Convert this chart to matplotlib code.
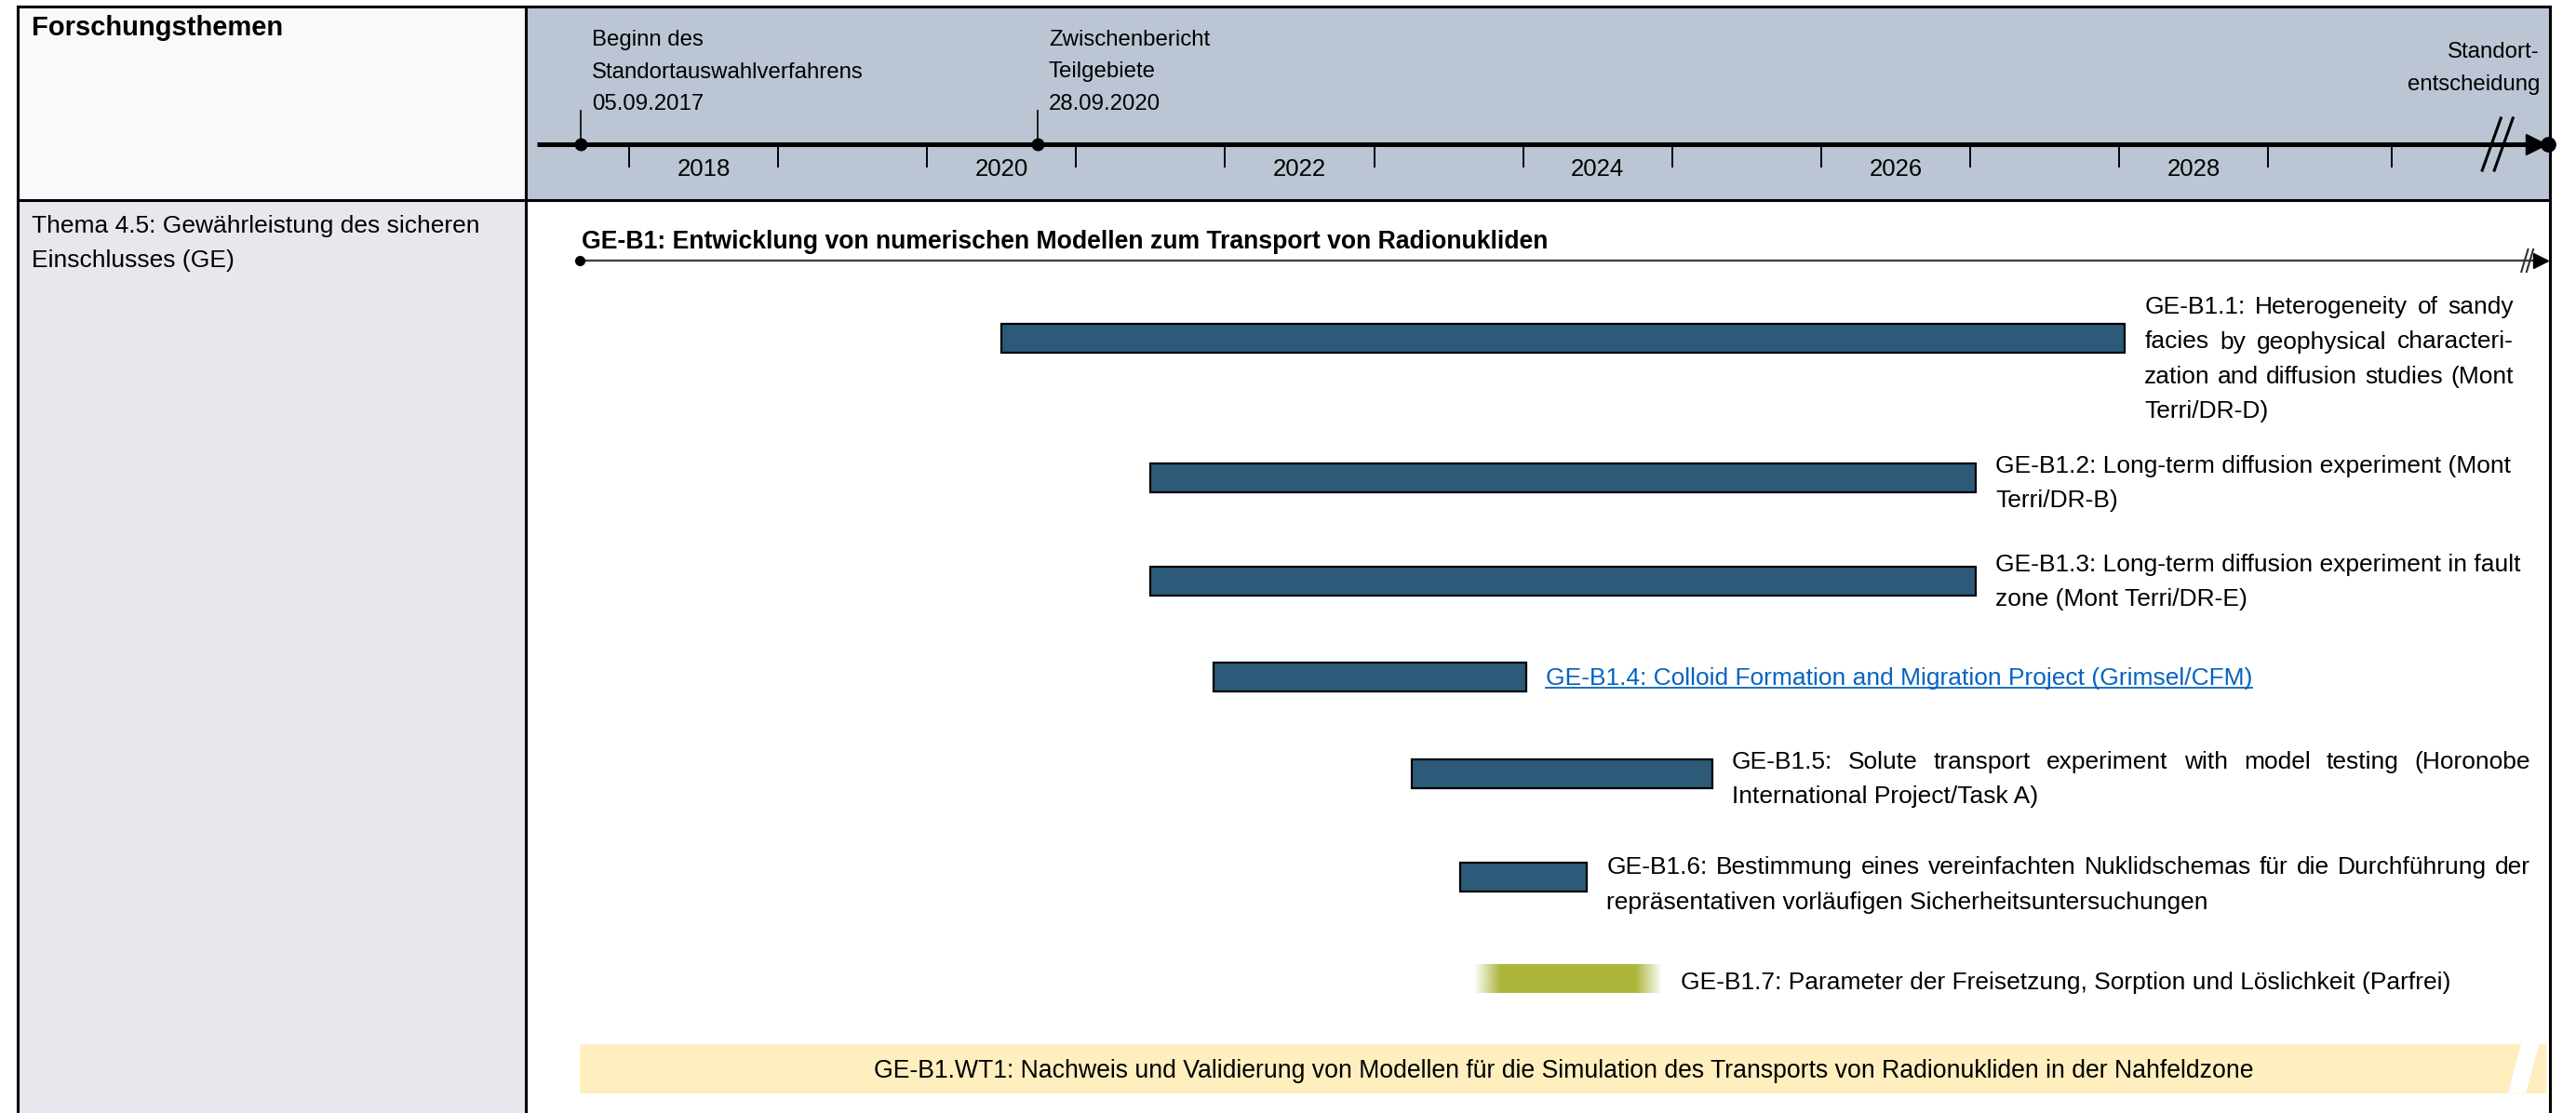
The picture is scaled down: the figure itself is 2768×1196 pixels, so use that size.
import datetime as dt
import numpy as np
import matplotlib
matplotlib.use("Agg")
import matplotlib.pyplot as plt
from matplotlib.colors import to_rgb
from matplotlib.patches import Rectangle, Polygon

plt.rcParams['font.family'] = ['Liberation Sans', 'DejaVu Sans']

# ---------------- data ----------------
header_title = "Forschungsthemen"
topic_title = ["Thema 4.5: Gewährleistung des sicheren", "Einschlusses (GE)"]

year_labels = [2018, 2020, 2022, 2024, 2026, 2028]
year_ticks = [2018, 2019, 2020, 2021, 2022, 2023, 2024, 2025, 2026, 2027, 2028, 2029, 2029.83]

milestone_dates = ["05.09.2017", "28.09.2020"]
milestone_texts = [["Beginn des", "Standortauswahlverfahrens", "05.09.2017"],
                   ["Zwischenbericht", "Teilgebiete", "28.09.2020"]]
end_text = ["Standort-", "entscheidung"]

group_title = "GE-B1: Entwicklung von numerischen Modellen zum Transport von Radionukliden"
group_span = (2017.67, 2030.83)

task_labels = [
    ["GE-B1.1: Heterogeneity of sandy", "facies by geophysical characteri-",
     "zation and diffusion studies (Mont", "Terri/DR-D)"],
    ["GE-B1.2: Long-term diffusion experiment (Mont", "Terri/DR-B)"],
    ["GE-B1.3: Long-term diffusion experiment in fault", "zone (Mont Terri/DR-E)"],
    ["GE-B1.4: Colloid Formation and Migration Project (Grimsel/CFM)"],
    ["GE-B1.5: Solute transport experiment with model testing (Horonobe",
     "International Project/Task A)"],
    ["GE-B1.6: Bestimmung eines vereinfachten Nuklidschemas für die Durchführung der",
     "repräsentativen vorläufigen Sicherheitsuntersuchungen"],
    ["GE-B1.7: Parameter der Freisetzung, Sorption und Löslichkeit (Parfrei)"],
]
task_start = [2020.50, 2021.50, 2021.50, 2021.92, 2023.25, 2023.58, 2023.67]
task_end = [2028.04, 2027.04, 2027.04, 2024.02, 2025.27, 2024.43, 2024.93]
bar_style = ["solid", "solid", "solid", "solid", "solid", "solid", "fade"]
label_style = ["justify", "plain", "plain", "link", "justify", "justify", "plain"]

wt_label = ("GE-B1.WT1: Nachweis und Validierung von Modellen für die Simulation "
            "des Transports von Radionukliden in der Nahfeldzone")
wt_span = (2017.67, 2030.87)

# ---------------- layout ----------------
W, H = 2768, 1196
L, T, R, MID, HB = 19, 7, 2740, 565, 215
PX0, PPY = 676, 160.1          # pixel x of 1 Jan 2018, pixels per year

BAR_Y = [363, 513, 624, 727, 831, 942, 1052]
LABEL_Y = [330, 501, 607, 729, 819, 932, 1056]
JUST_RIGHT = [2701, None, None, None, 2719, 2719, None]
BAR_H = 31
LINE = 37.5
AXY = 155
GY = 280
WT_Y, WT_H = 1148, 53

blue = '#2c5a78'
olive = '#abb53a'
yellow = '#ffefbe'
link = '#0563c1'


def yr(px):
    return 2018 + (px - PX0) / PPY


def to_year(s):
    d = dt.datetime.strptime(s, "%d.%m.%Y")
    n = (dt.datetime(d.year + 1, 1, 1) - dt.datetime(d.year, 1, 1)).days
    return d.year + (d - dt.datetime(d.year, 1, 1)).days / n


fig = plt.figure(figsize=(W / 100, H / 100), dpi=100)

# table frame / cells
bg = fig.add_axes([0, 0, 1, 1])
bg.set_xlim(0, W)
bg.set_ylim(H, 0)
bg.axis('off')
bg.add_patch(Rectangle((L, T), MID - L, HB - T, fc='#f8f9fb', lw=0))
bg.add_patch(Rectangle((MID, T), R - MID, HB - T, fc='#bcc5d3', lw=0))
bg.add_patch(Rectangle((L, HB), MID - L, H - HB + 5, fc='#e7e8ed', lw=0))
bk = dict(color='black', lw=2.2, solid_capstyle='projecting')
bg.plot([L, R], [T, T], **bk)
bg.plot([L, R], [HB, HB], **bk)
for x in (L, MID, R):
    bg.plot([x, x], [T, H + 5], **bk)
bg.text(34, 30, header_title, fontsize=21, fontweight='bold', va='center')
for i, s in enumerate(topic_title):
    bg.text(34, 243 + i * 37, s, fontsize=19, va='center')

# gantt area
ax = fig.add_axes([MID / W, 0, (W - MID) / W, 1])
ax.set_xlim(yr(MID), yr(W))
ax.set_ylim(H, 0)
ax.axis('off')

# timeline
ax.plot([yr(577), 2030.80], [AXY, AXY], color='black', lw=3.6, solid_capstyle='butt')
ax.plot(2030.80, AXY, marker='>', ms=16, color='black', clip_on=False)
ax.plot(2030.88, AXY, marker='o', ms=11, color='black', clip_on=False)
ax.vlines(year_ticks, AXY, AXY + 25, color='black', lw=1.4)
for y in year_labels:
    ax.text(y + 0.5, 182, str(y), ha='center', va='center', fontsize=18.5)
brk = 2030.50
for off in (0, 0.081):
    ax.plot([brk - 0.0625 + off, brk + 0.0625 + off], [183, 127], color='black', lw=2.2)

for d, lines in zip(milestone_dates, milestone_texts):
    x = to_year(d)
    ax.vlines(x, 118, AXY, color='black', lw=1.2)
    ax.plot(x, AXY, 'o', ms=9, color='black')
    for i, s in enumerate(lines):
        ax.text(x + 0.075, 43 + i * 34.5, s, fontsize=17.3, va='center')
for i, s in enumerate(end_text):
    ax.text(yr(2729), 56 + i * 35, s, fontsize=17.3, va='center', ha='right')

# group line
ax.plot(group_span, [GY, GY], color='#404040', lw=1.7)
ax.plot(group_span[0], GY, 'o', ms=7, color='black')
ax.plot(group_span[1], GY, '>', ms=11, color='black', clip_on=False)
for off in (0, 0.035):
    ax.plot([group_span[1] - 0.13 + off, group_span[1] - 0.085 + off], [GY + 12, GY - 12],
            color='#303030', lw=1.5)
ax.text(group_span[0] + 0.01, 260, group_title, fontsize=19.2, fontweight='bold', va='center')

# bars
for i in range(len(task_labels)):
    s, e, y = task_start[i], task_end[i], BAR_Y[i]
    if bar_style[i] == 'fade':
        xs = np.linspace(0, 1, 400)
        img = np.ones((1, 400, 4))
        img[..., :3] = to_rgb(olive)
        img[0, :, 3] = np.clip(np.minimum(xs, 1 - xs) / 0.14, 0, 1)
        ax.imshow(img, extent=(s, e, y + BAR_H / 2, y - BAR_H / 2), aspect='auto',
                  interpolation='bilinear')
    else:
        ax.barh(y, e - s, left=s, height=BAR_H, color=blue, edgecolor='black', lw=1.6)

ax.set_xlim(yr(MID), yr(W))
ax.set_ylim(H, 0)

# labels
fig.canvas.draw()
rend = fig.canvas.get_renderer()
inv = ax.transData.inverted()

for i, lines in enumerate(task_labels):
    x0 = task_end[i] + 0.13
    for j, s in enumerate(lines):
        y = LABEL_Y[i] + j * LINE
        if label_style[i] == 'justify' and j < len(lines) - 1:
            words = s.split(' ')
            ts = [ax.text(x0, y, w, fontsize=19, va='center') for w in words]
            widths = [t.get_window_extent(rend).width for t in ts]
            left_px = ax.transData.transform((x0, 0))[0]
            right_px = ax.transData.transform((yr(JUST_RIGHT[i]), 0))[0]
            gap = (right_px - left_px - sum(widths)) / (len(words) - 1)
            cur = left_px
            for t, wd in zip(ts, widths):
                t.set_x(inv.transform((cur, 0))[0])
                cur += wd + gap
        elif label_style[i] == 'link':
            t = ax.text(x0, y, s, fontsize=19, va='center', color=link)
            bb = t.get_window_extent(rend)
            (ux0, uy), (ux1, _) = inv.transform([(bb.x0, bb.y0 + 2.5), (bb.x1, bb.y0 + 2.5)])
            ax.plot([ux0, ux1], [uy, uy], color=link, lw=1.3)
        else:
            ax.text(x0, y, s, fontsize=19, va='center')

# WT1 band
ax.barh(WT_Y, wt_span[1] - wt_span[0], left=wt_span[0], height=WT_H, color=yellow, lw=0)
c = wt_span[1] - 0.22
ax.add_patch(Polygon([(c - 0.04, WT_Y + WT_H / 2), (c + 0.05, WT_Y - WT_H / 2),
                      (c + 0.17, WT_Y - WT_H / 2), (c + 0.08, WT_Y + WT_H / 2)],
                     fc='white', lw=0))
ax.text(sum(wt_span) / 2, WT_Y + 3, wt_label, ha='center', va='center', fontsize=19.2)

fig.savefig('out.png', dpi=100)
